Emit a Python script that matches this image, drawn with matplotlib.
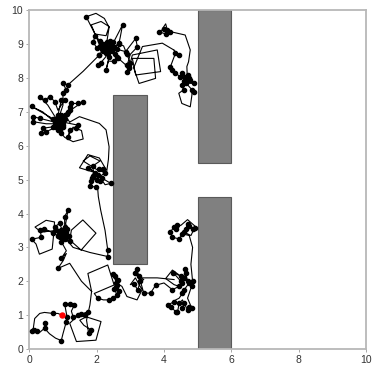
import matplotlib
matplotlib.use("Agg")
import matplotlib.pyplot as plt
from matplotlib.patches import Rectangle

# ---- obstacles (x, y, width, height) ----
obst_x = [2.5, 5.0, 5.0]
obst_y = [2.5, 5.5, 0.0]
obst_w = [1.0, 1.0, 1.0]
obst_h = [5.0, 4.5, 4.5]

start_x = [0.97]
start_y = [1.00]

# ---- path segments: x, y, dot flag (1 = sample dot) ----
s1_x = [0.97, 0.85, 0.70, 0.45, 0.31, 0.16, 0.12, 0.07, 0.15, 0.22, 0.32, 0.46, 0.46, 0.48, 0.60, 0.78, 0.95,
        1.00, 1.10, 1.12, 1.05, 1.20, 1.34, 1.25, 1.30, 1.45, 1.55, 1.65, 1.74, 1.60, 1.40, 1.20, 1.40, 1.98,
        2.13, 1.69, 1.50, 1.62, 1.84, 1.76, 1.70, 1.80, 1.85]
s1_y = [1.00, 1.05, 1.05, 1.08, 1.05, 0.90, 0.62, 0.54, 0.55, 0.54, 0.50, 0.62, 0.76, 0.58, 0.45, 0.32, 0.25,
        0.45, 0.81, 0.95, 1.33, 1.33, 1.30, 1.12, 0.95, 1.00, 1.03, 1.00, 1.10, 1.05, 0.95, 0.76, 0.22, 0.26,
        0.81, 0.95, 0.85, 0.70, 0.56, 0.48, 0.85, 1.30, 1.70]
s1_d = [0, 0, 1, 0, 0, 0, 0, 1, 1, 1, 0, 1, 1, 0, 0, 0, 1,
        0, 1, 1, 1, 1, 1, 0, 1, 1, 1, 1, 1, 0, 0, 0, 0, 0,
        0, 0, 0, 0, 1, 1, 0, 0, 0]

s2_x = [1.85, 1.74, 2.33, 2.52, 1.93, 2.03, 2.20, 2.38, 2.50, 2.60, 2.53, 2.57, 2.65, 2.60, 2.50, 2.62, 2.55,
        2.58, 2.75, 2.90, 3.20, 3.35, 3.15, 3.00, 3.10, 3.22, 3.30, 3.15, 3.20, 3.25, 3.40, 3.30, 3.40, 3.60,
        3.75, 4.00, 4.25, 4.45, 4.30, 4.05, 4.25, 4.50, 4.28, 4.50, 4.55, 4.60, 4.65, 4.62, 4.70, 4.75, 4.60,
        4.55, 4.45, 4.35, 4.30, 4.12, 4.20, 4.35, 4.40, 4.45, 4.55, 4.60, 4.55, 4.60, 4.70, 4.75, 4.82, 4.70,
        4.82, 4.85, 4.80, 4.85, 4.75, 4.55, 4.45, 4.25, 4.19, 4.30, 4.35, 4.40, 4.50, 4.70, 4.93, 4.80, 4.60,
        4.65, 4.70, 4.75, 4.87, 4.93]
s2_y = [1.70, 2.23, 2.48, 1.89, 1.64, 1.50, 1.45, 1.45, 1.50, 1.60, 1.78, 1.84, 1.72, 1.90, 2.20, 2.05, 2.15,
        1.95, 1.85, 1.55, 1.45, 1.75, 2.10, 1.90, 1.93, 1.75, 2.00, 2.25, 2.35, 2.15, 2.05, 2.00, 1.65, 1.65,
        1.88, 1.95, 1.75, 1.85, 1.90, 2.08, 2.33, 2.15, 2.25, 2.00, 1.95, 2.10, 2.25, 2.35, 2.00, 1.95, 1.75,
        1.65, 1.50, 1.45, 1.40, 1.30, 1.25, 1.10, 1.08, 1.35, 1.45, 1.30, 1.22, 1.35, 1.15, 1.25, 1.22, 1.50,
        1.85, 2.00, 2.50, 3.00, 3.35, 3.40, 3.25, 3.30, 3.46, 3.60, 3.55, 3.65, 3.65, 3.82, 3.62, 3.35, 3.45,
        3.55, 3.70, 3.62, 3.55, 3.58]
s2_d = [0, 0, 0, 0, 0, 1, 0, 1, 1, 1, 1, 1, 1, 1, 1, 1, 1,
        1, 0, 0, 0, 0, 0, 0, 1, 1, 1, 1, 1, 1, 0, 0, 1, 1,
        1, 0, 1, 1, 0, 0, 0, 1, 1, 1, 1, 1, 1, 1, 1, 1, 1,
        1, 0, 0, 1, 1, 1, 1, 1, 1, 0, 0, 1, 1, 1, 1, 1, 0,
        1, 1, 0, 0, 0, 1, 1, 1, 1, 1, 1, 1, 0, 0, 0, 0, 1,
        1, 1, 1, 1, 1]

s3_x = [3.30, 3.80, 4.30]
s3_y = [2.10, 2.10, 2.05]
s3_d = [0, 0, 0]

s4_x = [1.85, 1.55, 1.20, 0.85, 1.00, 1.10, 0.95, 1.10, 0.95, 1.00, 0.90, 0.85, 0.71, 0.45, 0.32, 0.36, 0.07,
        0.20, 0.30, 0.68, 0.72, 0.75, 0.50, 0.17, 0.35, 0.80, 0.76, 0.90, 0.98, 1.05, 1.05, 1.15, 1.08, 1.12,
        1.10, 1.00, 0.88, 1.18, 1.20, 1.25, 1.59, 1.98, 1.54, 1.20, 1.10, 1.05, 0.95, 1.00, 1.30, 1.80, 2.33,
        2.33, 2.25, 2.12, 2.05, 2.03]
s4_y = [1.70, 2.00, 2.53, 2.38, 2.60, 2.82, 2.68, 2.90, 3.17, 3.30, 3.30, 3.35, 3.42, 3.55, 3.52, 3.30, 3.24,
        3.10, 2.80, 2.95, 3.35, 3.75, 3.80, 3.60, 3.45, 3.50, 3.61, 3.71, 3.50, 3.60, 3.91, 4.10, 3.70, 3.55,
        3.45, 3.40, 3.45, 3.35, 3.20, 3.51, 3.81, 3.42, 2.92, 3.22, 3.30, 3.25, 3.52, 3.35, 3.00, 2.85, 2.73,
        2.92, 3.50, 4.10, 4.50, 4.75]
s4_d = [0, 0, 0, 1, 0, 0, 1, 0, 1, 1, 1, 1, 1, 1, 1, 1, 1,
        0, 0, 0, 0, 0, 0, 0, 0, 1, 1, 1, 1, 1, 1, 1, 0, 1,
        1, 1, 1, 1, 1, 0, 0, 0, 0, 0, 1, 1, 1, 0, 0, 0, 1,
        1, 0, 0, 0, 0]

s5_x = [2.03, 1.97, 1.80, 1.83, 1.85, 1.90, 2.00, 2.10, 2.15, 2.42, 2.25, 2.05, 1.95, 1.75, 1.98, 1.49, 1.74,
        2.08, 2.28, 2.08, 2.18, 2.25, 2.00, 1.60, 1.80, 2.10, 1.88, 1.92, 2.05, 2.30, 2.35, 2.37, 2.28, 2.08,
        1.49, 1.20]
s5_y = [4.75, 4.78, 4.81, 4.96, 5.05, 5.10, 5.00, 4.95, 5.05, 4.89, 4.85, 5.15, 5.20, 5.35, 5.20, 5.35, 5.74,
        5.64, 5.30, 5.30, 5.30, 5.20, 5.30, 5.55, 5.70, 5.55, 5.40, 5.15, 5.05, 5.25, 5.60, 5.97, 6.47, 6.66,
        6.86, 6.70]
s5_d = [0, 1, 1, 1, 1, 1, 1, 1, 1, 1, 0, 1, 1, 1, 0, 0, 0,
        0, 0, 1, 1, 1, 0, 0, 0, 0, 1, 1, 0, 0, 0, 0, 0, 0,
        0, 0]

s6_x = [1.20, 1.05, 1.15, 1.20, 1.25, 1.44, 1.59, 1.30, 0.95, 0.85, 0.95, 1.05, 0.85, 0.76, 0.61, 0.46, 0.31,
        0.55, 0.80, 0.70, 0.07, 0.40, 0.75, 0.31, 0.12, 0.12, 0.50, 0.85, 0.90, 0.71, 0.41, 0.36, 0.51, 0.80,
        0.95, 0.85, 0.95, 1.05, 1.30, 1.60, 1.55, 1.30, 1.15, 1.20, 1.39, 1.44, 1.00, 0.90, 1.00, 0.75, 0.90,
        1.00, 1.00, 1.10, 1.00, 1.15, 1.60, 2.08]
s6_y = [6.70, 6.91, 7.01, 7.06, 7.25, 7.25, 7.30, 7.10, 6.85, 6.90, 7.35, 7.35, 7.05, 7.30, 7.45, 7.35, 7.45,
        7.20, 6.80, 6.80, 7.16, 7.00, 6.70, 6.81, 6.86, 6.71, 6.65, 6.65, 6.75, 6.56, 6.52, 6.37, 6.42, 6.55,
        6.60, 6.47, 6.37, 6.25, 6.12, 6.20, 6.45, 6.55, 6.27, 6.47, 6.52, 6.61, 6.70, 6.50, 6.55, 6.60, 6.90,
        7.20, 7.55, 7.65, 7.84, 7.80, 8.20, 8.68]
s6_d = [0, 1, 1, 1, 1, 1, 1, 0, 1, 1, 1, 1, 0, 1, 1, 1, 1,
        0, 1, 1, 1, 0, 1, 1, 1, 1, 0, 1, 1, 1, 1, 1, 1, 1,
        1, 1, 1, 0, 0, 0, 0, 0, 1, 1, 1, 1, 1, 1, 1, 1, 0,
        0, 1, 1, 1, 1, 0, 1]

s7_x = [2.08, 2.18, 2.28, 2.37, 2.28, 2.35, 2.52, 2.62, 2.55, 2.45, 2.30, 2.15, 2.00, 1.90, 1.95, 2.10, 2.20,
        2.25, 2.10, 1.84, 2.13, 2.37, 2.28, 1.95, 1.69, 1.98, 2.23, 2.37, 2.30, 2.40, 2.40, 2.50, 2.77, 2.70,
        2.66, 2.52, 2.60, 2.86, 3.16, 3.21, 3.00, 2.91, 2.96, 2.91, 2.96, 3.06, 3.80, 3.90, 3.16, 3.06, 3.70,
        3.75, 3.26, 3.10, 3.36, 3.95, 4.29]
s7_y = [8.68, 8.83, 8.73, 8.63, 8.24, 8.50, 8.49, 8.58, 8.70, 8.80, 8.90, 8.85, 8.90, 9.05, 9.25, 9.10, 9.00,
        8.95, 8.95, 9.57, 9.67, 9.52, 9.25, 9.30, 9.81, 9.91, 9.76, 9.50, 9.05, 9.10, 8.95, 9.05, 9.57, 9.20,
        9.02, 8.92, 8.85, 8.78, 9.17, 8.92, 8.70, 8.39, 8.34, 8.19, 8.29, 8.68, 8.83, 8.19, 8.09, 8.58, 8.58,
        7.99, 7.84, 8.30, 8.93, 9.03, 8.83]
s7_d = [1, 1, 1, 1, 1, 0, 1, 1, 1, 1, 1, 1, 1, 1, 1, 1, 1,
        1, 1, 0, 0, 0, 0, 0, 1, 0, 0, 0, 1, 1, 1, 1, 1, 0,
        1, 1, 1, 1, 1, 1, 0, 1, 1, 1, 1, 0, 0, 0, 0, 0, 0,
        0, 0, 0, 0, 0, 0]

s8_x = [4.29, 4.44, 4.34, 4.19, 4.24, 4.34, 4.49, 4.55, 4.63, 4.70, 4.73, 4.78, 4.88, 4.65, 4.60, 4.53, 4.58,
        4.44, 4.53, 4.78, 4.83, 4.83, 4.88, 4.70, 4.68, 4.73, 4.78, 4.63, 4.19, 4.10, 4.05, 3.95, 4.00, 3.85,
        4.05]
s8_y = [8.83, 8.68, 8.73, 8.33, 8.24, 8.14, 8.04, 8.15, 8.04, 8.10, 7.99, 7.94, 7.84, 7.85, 7.90, 7.79, 7.65,
        7.55, 7.25, 7.15, 7.50, 7.65, 7.60, 7.80, 8.34, 8.48, 8.83, 9.27, 9.37, 9.42, 9.60, 9.45, 9.45, 9.37,
        9.30]
s8_d = [0, 1, 1, 1, 1, 1, 1, 1, 1, 1, 1, 1, 1, 1, 1, 1, 1,
        0, 0, 0, 0, 1, 1, 0, 0, 0, 0, 0, 1, 1, 0, 0, 1, 1,
        1]

# extra wiggles inside the dense clusters
s9_x = [2.20, 2.35, 2.50, 2.65, 2.80, 2.90, 3.00, 2.85, 2.60, 2.40, 2.25, 2.12, 2.05]
s9_y = [8.80, 8.75, 8.90, 9.00, 8.95, 8.70, 8.45, 8.40, 8.62, 8.82, 8.60, 8.45, 8.38]
s9_d = [1, 1, 1, 1, 0, 1, 1, 0, 1, 1, 0, 1, 1]

s10_x = [0.80, 0.90, 0.85, 0.95, 1.00, 0.90, 0.80, 0.85, 0.95, 1.05, 1.12, 1.20]
s10_y = [6.60, 6.70, 6.85, 6.75, 6.60, 6.50, 6.70, 6.60, 6.90, 6.80, 6.95, 7.15]
s10_d = [1, 1, 1, 1, 1, 1, 1, 1, 1, 1, 1, 1]

segments = [(s1_x, s1_y, s1_d), (s2_x, s2_y, s2_d), (s3_x, s3_y, s3_d), (s4_x, s4_y, s4_d),
            (s5_x, s5_y, s5_d), (s6_x, s6_y, s6_d), (s7_x, s7_y, s7_d), (s8_x, s8_y, s8_d),
            (s9_x, s9_y, s9_d), (s10_x, s10_y, s10_d)]

x_ticks = [0, 2, 4, 6, 8, 10]
y_ticks = [0, 1, 2, 3, 4, 5, 6, 7, 8, 9, 10]

plt.rcParams['font.family'] = ['Liberation Sans', 'DejaVu Sans']
fig = plt.figure(figsize=(3.73, 3.70), dpi=100)
ax = fig.add_axes([29.3 / 373, 21.0 / 370, (366.0 - 29.3) / 373, (349.0 - 10.3) / 370])

for ox, oy, ow, oh in zip(obst_x, obst_y, obst_w, obst_h):
    ax.add_patch(Rectangle((ox, oy), ow, oh, facecolor='#808080', edgecolor='#5a5a5a', linewidth=0.8, zorder=1))

for sx, sy, sd in segments:
    ax.plot(sx, sy, color='black', linewidth=0.8, zorder=2)
    dx = [x for x, d in zip(sx, sd) if d]
    dy = [y for y, d in zip(sy, sd) if d]
    ax.plot(dx, dy, linestyle='none', marker='o', markersize=3.0, color='black', zorder=3)

ax.plot(start_x, start_y, linestyle='none', marker='o', markersize=3.6, color='red', zorder=4)

ax.set_xlim(0, 10)
ax.set_ylim(0, 10)
ax.set_xticks(x_ticks)
ax.set_yticks(y_ticks)
ax.tick_params(direction='out', length=2.5, width=0.6, colors='#9a9a9a', labelcolor='#333333', labelsize=7.5, pad=2)
for sp in ax.spines.values():
    sp.set_color('#b8b8b8')
    sp.set_linewidth(1.3)

fig.savefig('out.png', dpi=100)
